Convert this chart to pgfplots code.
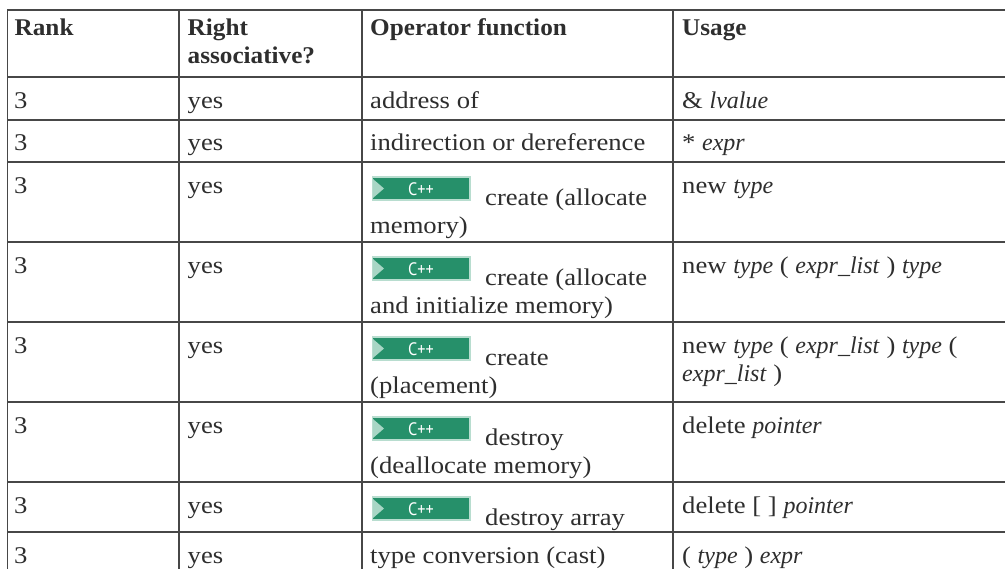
\documentclass[border=0pt]{standalone}
\usepackage{fontspec}
\setmainfont[FakeStretch=1.11,BoldFeatures={FakeStretch=1.05},ItalicFeatures={FakeStretch=1.0}]{Liberation Serif}
\newfontfamily\iconfont[FakeStretch=0.9]{PT Sans}
\usepackage{pgfplots}
\pgfplotsset{compat=1.18}
\definecolor{rule}{HTML}{474747}
\definecolor{ink}{HTML}{2E2E2E}
\definecolor{cppfill}{HTML}{26906A}
\definecolor{cppedge}{HTML}{B8DDCF}
\definecolor{cpptri}{HTML}{A9D6C5}
\newcommand{\T}[3]{\node[anchor=base west,inner sep=0pt,text=ink,yshift=-1bp] at (axis cs:#1,#2) {\strut #3};}
\newcommand{\C}[1]{\node[anchor=base,inner sep=0pt,text=white] at (axis cs:421,#1) {\iconfont\fontsize{18bp}{18bp}\selectfont C++};}
\begin{document}
\begin{tikzpicture}
\begin{axis}[name=a,scale only axis,width=1005bp,height=569bp,xmin=0,xmax=1005,ymin=0,ymax=569,y dir=reverse,hide axis,clip=false,
 font=\fontsize{24bp}{28bp}\selectfont]
\fill[white] (axis cs:0,0) rectangle (axis cs:1005,569);
% horizontal rules
\addplot[rule,line width=1.6bp] coordinates {(7,10)(1005,10)};
\addplot[rule,line width=1.6bp] coordinates {(7,77)(1005,77)};
\addplot[rule,line width=1.6bp] coordinates {(7,120)(1005,120)};
\addplot[rule,line width=1.6bp] coordinates {(7,162)(1005,162)};
\addplot[rule,line width=1.6bp] coordinates {(7,242)(1005,242)};
\addplot[rule,line width=1.6bp] coordinates {(7,322)(1005,322)};
\addplot[rule,line width=1.6bp] coordinates {(7,402)(1005,402)};
\addplot[rule,line width=1.6bp] coordinates {(7,482)(1005,482)};
\addplot[rule,line width=1.6bp] coordinates {(7,532)(1005,532)};
% vertical rules
\addplot[rule,line width=1.6bp] coordinates {(7.5,10)(7.5,569)};
\addplot[rule,line width=1.6bp] coordinates {(179,10)(179,569)};
\addplot[rule,line width=1.6bp] coordinates {(362,10)(362,569)};
\addplot[rule,line width=1.6bp] coordinates {(673,10)(673,569)};
% C++ badges
\addplot[fill=cppfill,draw=cppedge,line width=1.2bp] coordinates {(372.5,177)(470,177)(470,200)(372.5,200)} --cycle;
\addplot[fill=cppfill,draw=cppedge,line width=1.2bp] coordinates {(372.5,257)(470,257)(470,280)(372.5,280)} --cycle;
\addplot[fill=cppfill,draw=cppedge,line width=1.2bp] coordinates {(372.5,337)(470,337)(470,360)(372.5,360)} --cycle;
\addplot[fill=cppfill,draw=cppedge,line width=1.2bp] coordinates {(372.5,417)(470,417)(470,440)(372.5,440)} --cycle;
\addplot[fill=cppfill,draw=cppedge,line width=1.2bp] coordinates {(372.5,497)(470,497)(470,520)(372.5,520)} --cycle;
\addplot[fill=cpptri,draw=none] coordinates {(373,179)(384,188.5)(373,198)} --cycle;
\addplot[fill=cpptri,draw=none] coordinates {(373,259)(384,268.5)(373,278)} --cycle;
\addplot[fill=cpptri,draw=none] coordinates {(373,339)(384,348.5)(373,358)} --cycle;
\addplot[fill=cpptri,draw=none] coordinates {(373,419)(384,428.5)(373,438)} --cycle;
\addplot[fill=cpptri,draw=none] coordinates {(373,499)(384,508.5)(373,518)} --cycle;
\C{195}\C{275}\C{355}\C{435}\C{515}
% header
\T{14.5}{35}{\textbf{Rank}}
\T{187.5}{35}{\textbf{Right}}
\T{187.5}{63}{\textbf{associative?}}
\T{370}{35}{\textbf{Operator function}}
\T{682}{35}{\textbf{Usage}}
% rank + right assoc
\T{14}{107}{3}\T{187.5}{107}{yes}
\T{14}{149}{3}\T{187.5}{149}{yes}
\T{14}{192}{3}\T{187.5}{192}{yes}
\T{14}{272}{3}\T{187.5}{272}{yes}
\T{14}{352}{3}\T{187.5}{352}{yes}
\T{14}{432}{3}\T{187.5}{432}{yes}
\T{14}{512}{3}\T{187.5}{512}{yes}
\T{14}{562}{3}\T{187.5}{562}{yes}
% operator function
\T{370}{107}{address of}
\T{370}{149}{indirection or dereference}
\T{485}{204}{create (allocate}
\T{370}{232}{memory)}
\T{485}{284}{create (allocate}
\T{370}{312}{and initialize memory)}
\T{485}{364}{create}
\T{370}{392}{(placement)}
\T{485}{444}{destroy}
\T{370}{472}{(deallocate memory)}
\T{485}{524}{destroy array}
\T{370}{562}{type conversion (cast)}
% usage
\T{682}{107}{\& \textit{lvalue}}
\T{682}{149}{* \textit{expr}}
\T{682}{192}{new \textit{type}}
\T{682}{272}{new \textit{type} ( \textit{expr\_list} ) \textit{type}}
\T{682}{352}{new \textit{type} ( \textit{expr\_list} ) \textit{type} (}
\T{682}{380}{\textit{expr\_list} )}
\T{682}{432}{delete \textit{pointer}}
\T{682}{512}{delete [ ] \textit{pointer}}
\T{682}{562}{( \textit{type} ) \textit{expr}}
\end{axis}
\pgfresetboundingbox
\useasboundingbox (a.south west) rectangle (a.north east);
\end{tikzpicture}
\end{document}
